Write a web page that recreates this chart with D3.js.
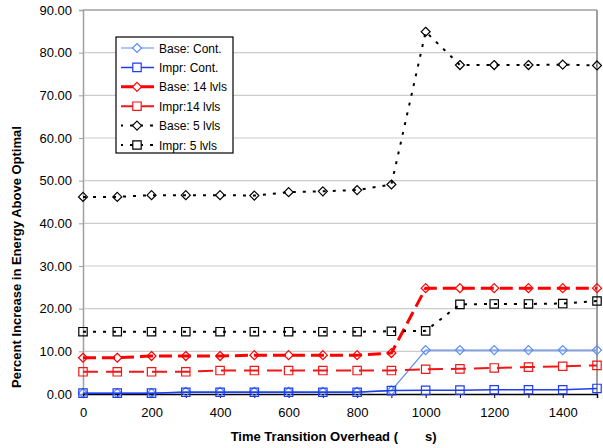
<!doctype html>
<html lang="en">
<head>
<meta charset="utf-8">
<title>Energy overhead</title>
<script src="https://d3js.org/d3.v7.min.js"></script>
<style>
  body { margin: 0; background: #fff; }
  svg text { font-family: "Liberation Sans", Arial, sans-serif; fill: #000; }
</style>
</head>
<body>
<svg id="chart"></svg>
<script>
// x values (time transition overhead)
var overhead = [0, 100, 200, 300, 400, 500, 600, 700, 800, 900, 1000, 1100, 1200, 1300, 1400, 1500];
var xTicks = [0, 200, 400, 600, 800, 1000, 1200, 1400];
var yTicks = [0, 10, 20, 30, 40, 50, 60, 70, 80, 90];

// series values
var baseCont  = [0.2, 0.2, 0.2, 0.5, 0.5, 0.5, 0.5, 0.5, 0.5, 0.8, 10.3, 10.3, 10.3, 10.3, 10.3, 10.3];
var imprCont  = [0.2, 0.2, 0.2, 0.4, 0.4, 0.4, 0.4, 0.4, 0.4, 0.8, 0.85, 0.9, 1.0, 1.0, 1.0, 1.3];
var base14    = [8.5, 8.5, 8.9, 8.9, 8.9, 9.1, 9.1, 9.1, 9.1, 9.6, 24.8, 24.8, 24.8, 24.8, 24.8, 24.8];
var impr14    = [5.2, 5.2, 5.2, 5.2, 5.5, 5.5, 5.5, 5.5, 5.5, 5.5, 5.8, 5.9, 6.1, 6.3, 6.5, 6.7];
var base5     = [46.2, 46.2, 46.6, 46.6, 46.6, 46.5, 47.3, 47.5, 47.8, 49.1, 84.9, 77.1, 77.1, 77.1, 77.2, 77.0];
var impr5     = [14.6, 14.6, 14.6, 14.6, 14.6, 14.6, 14.6, 14.6, 14.6, 14.7, 14.8, 21.0, 21.1, 21.1, 21.2, 21.8];

var series = [
  {name: "Base: Cont.",   values: baseCont, color: "#5b8cf5", width: 1.2, dash: null,   shape: "diamond"},
  {name: "Impr: Cont.",   values: imprCont, color: "#1f3cf0", width: 1.5, dash: null,   shape: "square"},
  {name: "Base: 14 lvls", values: base14,   color: "#ff0000", width: 3,   dash: "13,6", shape: "diamond"},
  {name: "Impr:14 lvls",  values: impr14,   color: "#f01818", width: 2,   dash: "15,8", shape: "square"},
  {name: "Base: 5 lvls",  values: base5,    color: "#000000", width: 2,   dash: "3,7",  shape: "diamond"},
  {name: "Impr: 5 lvls",  values: impr5,    color: "#000000", width: 2,   dash: "3,7",  shape: "square"}
];

var width = 603, height = 448;
var margin = {left: 83, right: 6, top: 10, bottom: 54};

var svg = d3.select("#chart").attr("width", width).attr("height", height);

var x = d3.scaleLinear().domain([0, 1500]).range([margin.left, width - margin.right]);
var y = d3.scaleLinear().domain([0, 90]).range([height - margin.bottom, margin.top]);

// gridlines
svg.append("g").selectAll("line")
  .data(yTicks.filter(function(d) { return d > 0; }))
  .enter().append("line")
  .attr("x1", x(0)).attr("x2", x(1500))
  .attr("y1", function(d) { return y(d); }).attr("y2", function(d) { return y(d); })
  .attr("stroke", function(d) { return d == 90 ? "#a0a0a0" : "#cccccc"; })
  .attr("stroke-width", function(d) { return d == 90 ? 1.5 : 1.2; });

// right border
svg.append("line")
  .attr("x1", x(1500)).attr("x2", x(1500)).attr("y1", y(90)).attr("y2", y(0))
  .attr("stroke", "#a0a0a0").attr("stroke-width", 2);

// y axis
var yAxis = d3.axisLeft(y).tickValues(yTicks).tickFormat(d3.format(".2f")).tickSize(4).tickPadding(7);
var gy = svg.append("g").attr("transform", "translate(" + x(0) + ",0)").call(yAxis);
gy.select(".domain").attr("stroke", "#a0a0a0").attr("stroke-width", 1.5);
gy.selectAll(".tick line").attr("stroke", "#a0a0a0");
gy.selectAll("text").style("font-size", "13px").attr("fill", "#000");

// x axis
var xAxis = d3.axisBottom(x).tickValues(overhead).tickSize(4).tickPadding(10)
  .tickFormat(function(d) { return xTicks.indexOf(d) >= 0 ? d : ""; });
var gx = svg.append("g").attr("transform", "translate(0," + y(0) + ")").call(xAxis);
gx.select(".domain").attr("stroke", "#000").attr("stroke-width", 1.5);
gx.selectAll(".tick line").attr("stroke", "#000");
gx.selectAll("text").style("font-size", "13px").attr("fill", "#000");

// axis titles
svg.append("text")
  .attr("x", 398).attr("y", 441).attr("text-anchor", "end")
  .style("font-size", "13px").style("font-weight", "bold")
  .text("Time Transition Overhead (");
svg.append("text")
  .attr("x", 425).attr("y", 441)
  .style("font-size", "13px").style("font-weight", "bold")
  .text("s)");
svg.append("text")
  .attr("transform", "translate(21,257) rotate(-90)")
  .attr("text-anchor", "middle")
  .style("font-size", "13px").style("font-weight", "bold")
  .text("Percent Increase in Energy Above Optimal");

// marker shapes
function markerPath(shape) {
  if (shape == "diamond") return "M0,-4.5L4.5,0L0,4.5L-4.5,0Z";
  return "M-4.2,-4.2H4.2V4.2H-4.2Z";
}

var line = d3.line()
  .x(function(d, i) { return x(overhead[i]); })
  .y(function(d) { return y(d); });

series.forEach(function(s) {
  var g = svg.append("g");
  g.append("path")
    .attr("d", line(s.values))
    .attr("fill", "none")
    .attr("stroke", s.color)
    .attr("stroke-width", s.width)
    .attr("stroke-dasharray", s.dash);
  g.selectAll("path.mk")
    .data(s.values)
    .enter().append("path")
    .attr("class", "mk")
    .attr("d", markerPath(s.shape))
    .attr("transform", function(d, i) { return "translate(" + x(overhead[i]) + "," + y(d) + ")"; })
    .attr("fill", "none")
    .attr("stroke", s.color)
    .attr("stroke-width", 1.2);
});

// legend
var legend = svg.append("g").attr("transform", "translate(116,37)");
legend.append("rect")
  .attr("width", 117).attr("height", 116)
  .attr("fill", "#fff").attr("stroke", "#000").attr("stroke-width", 1.2);

var item = legend.selectAll("g.item")
  .data(series)
  .enter().append("g")
  .attr("class", "item")
  .attr("transform", function(d, i) { return "translate(0," + (11 + i * 19.4) + ")"; });

item.append("line")
  .attr("x1", 5).attr("x2", 38)
  .attr("stroke", function(d) { return d.color; })
  .attr("stroke-width", function(d) { return d.width; })
  .attr("stroke-dasharray", function(d) { return d.color == "#000000" ? "3,7" : null; })
  .attr("stroke-dashoffset", 1);
item.append("path")
  .attr("d", function(d) { return markerPath(d.shape); })
  .attr("transform", "translate(21,0)")
  .attr("fill", "#fff")
  .attr("stroke", function(d) { return d.color; })
  .attr("stroke-width", 1.2);
item.append("text")
  .attr("x", 43).attr("y", 4.5)
  .style("font-size", "12px")
  .text(function(d) { return d.name; });
</script>
</body>
</html>
